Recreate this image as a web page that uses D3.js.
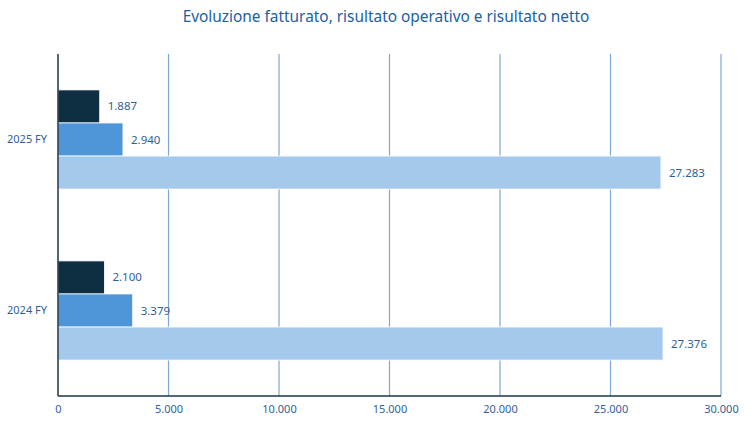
<!DOCTYPE html>
<html><head><meta charset="utf-8">
<script src="https://cdn.jsdelivr.net/npm/d3@7"></script>
<style>body{margin:0;background:#fff}svg{display:block}text{font-family:"Noto Sans",Roboto,sans-serif}</style>
</head><body>
<svg id="c" width="753" height="423"></svg>
<script>
const title = "Evoluzione fatturato, risultato operativo e risultato netto";
const categories = ["2025 FY", "2024 FY"];
const seriesNames = ["Risultato netto", "Risultato operativo", "Fatturato"];
const seriesColors = ["#0e2f42", "#4e95d9", "#a5c9ec"];
const risultatoNetto = [1887, 2100];
const risultatoOperativo = [2940, 3379];
const fatturato = [27283, 27376];
const xTicks = [0, 5000, 10000, 15000, 20000, 25000, 30000];

const series = [risultatoNetto, risultatoOperativo, fatturato];
const svg = d3.select("#c");
const m = {l: 58, r: 32, t: 54, b: 27};
const W = 753, H = 423;
const x = d3.scaleLinear().domain([0, 30000]).range([m.l, W - m.r]);
const y = d3.scaleBand().domain(categories).range([m.t, H - m.b]).paddingInner(0.42).paddingOuter(0.21);
const ys = d3.scaleBand().domain(d3.range(series.length)).range([0, y.bandwidth()]);
const fmt = v => d3.format(",")(v).replace(/,/g, ".");

svg.append("text").attr("x", 386).attr("y", 22).attr("text-anchor", "middle")
  .attr("fill", "#2060a0").attr("font-size", 15.4).text(title);

// gridlines
svg.append("g").selectAll("line").data(xTicks.slice(1)).join("line")
  .attr("x1", d => x(d)).attr("x2", d => x(d))
  .attr("y1", m.t).attr("y2", H - m.b)
  .attr("stroke", "#7fa7d4").attr("stroke-width", 1.2);

// bars
categories.forEach((c, ci) => {
  series.forEach((s, si) => {
    const by = y(c) + ys(si);
    svg.append("rect").attr("x", x(0)).attr("y", by)
      .attr("width", x(s[ci]) - x(0)).attr("height", ys.bandwidth())
      .attr("fill", seriesColors[si]).attr("stroke", "#fff").attr("stroke-width", 0.8);
    svg.append("text").attr("x", x(s[ci]) + 8).attr("y", by + ys.bandwidth() / 2)
      .attr("dy", "0.35em").attr("fill", "#2f5f98").attr("font-size", 11.5).text(fmt(s[ci]));
  });
});

// axes lines
svg.append("line").attr("x1", x(0)).attr("x2", x(0)).attr("y1", m.t).attr("y2", H - m.b)
  .attr("stroke", "#1d3547").attr("stroke-width", 1.5);
svg.append("line").attr("x1", x(0)).attr("x2", x(30000)).attr("y1", H - m.b).attr("y2", H - m.b)
  .attr("stroke", "#1d3547").attr("stroke-width", 1.5);

// x tick labels
const xa = svg.append("g").attr("transform", `translate(0,${H - m.b})`)
  .call(d3.axisBottom(x).tickValues(xTicks).tickFormat(fmt).tickSize(0).tickPadding(9));
xa.select(".domain").remove();
xa.selectAll("text").attr("fill", "#2f5f98").attr("font-size", 11).attr("font-family", '"Noto Sans",Roboto,sans-serif');

// y labels
const ya = svg.append("g").attr("transform", `translate(${x(0)},0)`)
  .call(d3.axisLeft(y).tickSize(0).tickPadding(11));
ya.select(".domain").remove();
ya.selectAll("text").attr("fill", "#2f5f98").attr("font-size", 11).attr("font-family", '"Noto Sans",Roboto,sans-serif');
</script>
</body></html>
